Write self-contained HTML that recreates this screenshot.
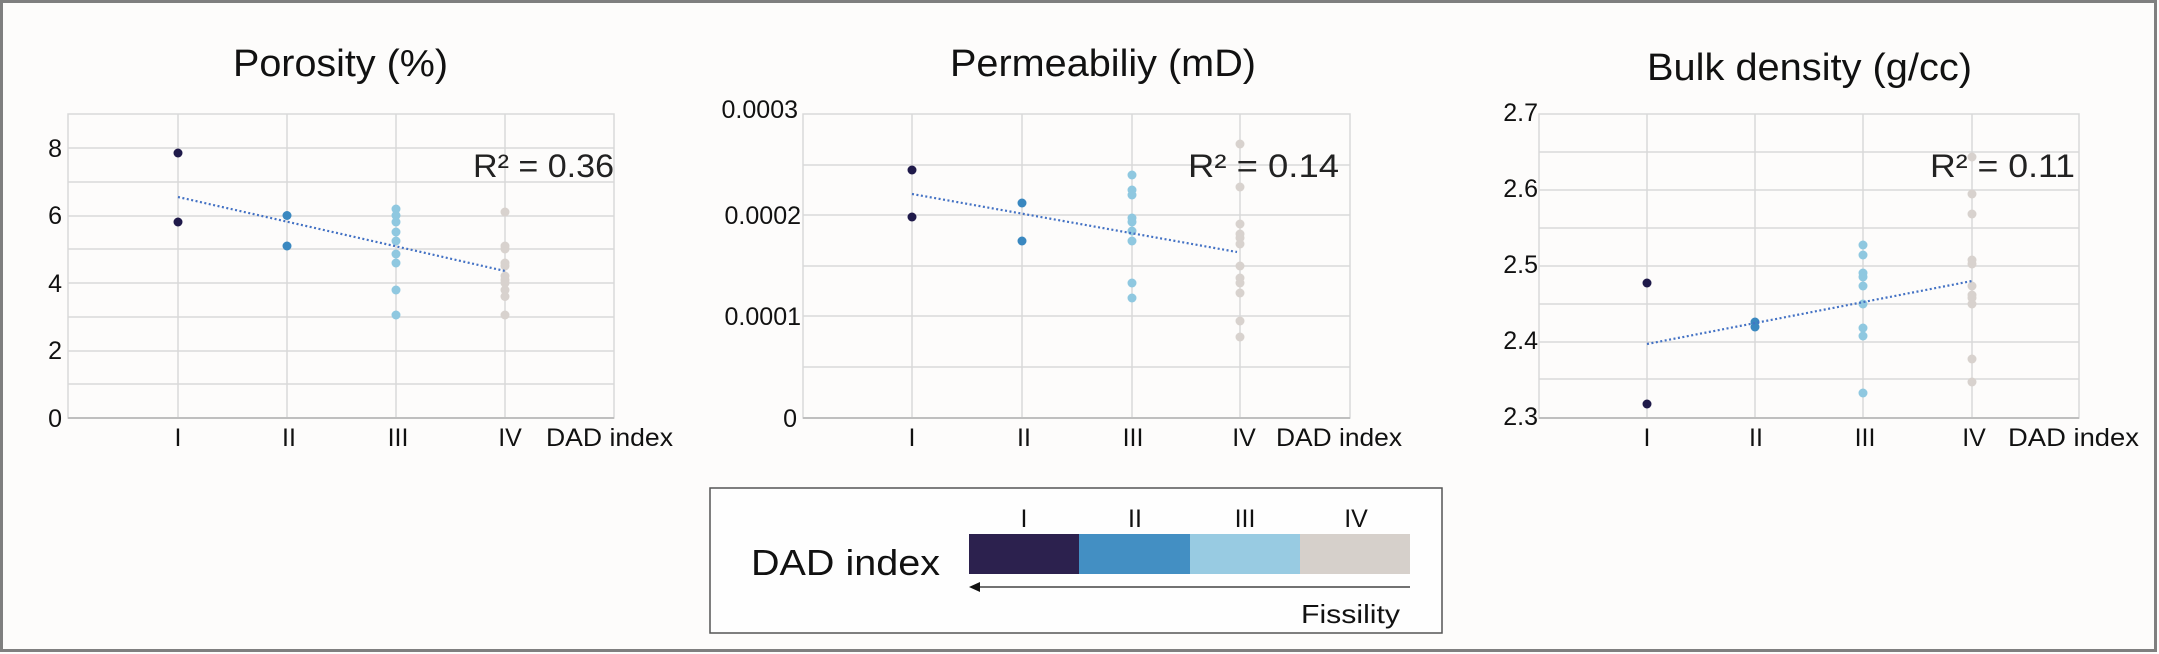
<!DOCTYPE html>
<html><head><meta charset="utf-8"><style>
html,body{margin:0;padding:0;background:#fdfcfb;}
svg{display:block;}
text{font-family:"Liberation Sans",sans-serif;fill:#111;}
.g{stroke:#d9d9d9;stroke-width:1.5;fill:none}
.tk{font-size:25px;text-anchor:end}
.xl{font-size:25px;text-anchor:middle}
.tt{font-size:38px}
.r2{font-size:32px;fill:#222}
.tr{stroke:#4472c4;stroke-width:2.2;stroke-dasharray:2 2.5;fill:none}
</style></head><body>
<svg width="2159" height="654" viewBox="0 0 2159 654" xmlns="http://www.w3.org/2000/svg">
<rect x="1.5" y="1.5" width="2154" height="649" fill="#fdfcfb" stroke="#7f7f7f" stroke-width="3"/>

<!-- Porosity -->
<g>
<text class="tt" x="233" y="76" textLength="215" lengthAdjust="spacingAndGlyphs">Porosity (%)</text>
<g class="g">
<rect x="68" y="114" width="546" height="304"/>
<line x1="68" x2="614" y1="148" y2="148"/><line x1="68" x2="614" y1="182" y2="182"/><line x1="68" x2="614" y1="216" y2="216"/><line x1="68" x2="614" y1="249" y2="249"/><line x1="68" x2="614" y1="283" y2="283"/><line x1="68" x2="614" y1="317" y2="317"/><line x1="68" x2="614" y1="351" y2="351"/><line x1="68" x2="614" y1="384" y2="384"/>
<line x1="178" x2="178" y1="114" y2="418"/><line x1="287" x2="287" y1="114" y2="418"/><line x1="396" x2="396" y1="114" y2="418"/><line x1="505" x2="505" y1="114" y2="418"/>
</g>
<line x1="68" x2="614" y1="418" y2="418" stroke="#bfbfbf" stroke-width="2"/>
<text class="tk" x="62" y="157">8</text><text class="tk" x="62" y="224">6</text><text class="tk" x="62" y="292">4</text><text class="tk" x="62" y="359">2</text><text class="tk" x="62" y="427">0</text>
<text class="xl" x="178" y="446">I</text><text class="xl" x="289" y="446">II</text><text class="xl" x="398" y="446">III</text><text class="xl" x="510" y="446">IV</text>
<text x="546" y="446" font-size="25" textLength="127" lengthAdjust="spacingAndGlyphs">DAD index</text>
<g fill="#1f1a4a"><circle cx="178" cy="153" r="4.5"/><circle cx="178" cy="222" r="4.5"/></g>
<g fill="#3a88c0"><circle cx="287" cy="215.5" r="4.5"/><circle cx="287" cy="246" r="4.5"/></g>
<g fill="#8fc8e0"><circle cx="396" cy="209" r="4.5"/><circle cx="396" cy="215.5" r="4.5"/><circle cx="396" cy="222" r="4.5"/><circle cx="396" cy="232" r="4.5"/><circle cx="396" cy="241" r="4.5"/><circle cx="396" cy="254" r="4.5"/><circle cx="396" cy="263" r="4.5"/><circle cx="396" cy="290" r="4.5"/><circle cx="396" cy="315" r="4.5"/></g>
<g fill="#d8d2ce"><circle cx="505" cy="212" r="4.5"/><circle cx="505" cy="246" r="4.5"/><circle cx="505" cy="249" r="4.5"/><circle cx="505" cy="263" r="4.5"/><circle cx="505" cy="266" r="4.5"/><circle cx="505" cy="276" r="4.5"/><circle cx="505" cy="280" r="4.5"/><circle cx="505" cy="283" r="4.5"/><circle cx="505" cy="290" r="4.5"/><circle cx="505" cy="296.5" r="4.5"/><circle cx="505" cy="315" r="4.5"/></g>
<line class="tr" x1="178" y1="197" x2="505" y2="271"/>
<text class="r2" x="473" y="177" textLength="141" lengthAdjust="spacingAndGlyphs">R² = 0.36</text>
</g>

<!-- Permeability -->
<g>
<text class="tt" x="950" y="76" textLength="306" lengthAdjust="spacingAndGlyphs">Permeabiliy (mD)</text>
<g class="g">
<rect x="803" y="114" width="547" height="304"/>
<line x1="803" x2="1350" y1="165" y2="165"/><line x1="803" x2="1350" y1="215" y2="215"/><line x1="803" x2="1350" y1="266" y2="266"/><line x1="803" x2="1350" y1="316" y2="316"/><line x1="803" x2="1350" y1="367" y2="367"/>
<line x1="912" x2="912" y1="114" y2="418"/><line x1="1022" x2="1022" y1="114" y2="418"/><line x1="1132" x2="1132" y1="114" y2="418"/><line x1="1240" x2="1240" y1="114" y2="418"/>
</g>
<line x1="803" x2="1350" y1="418" y2="418" stroke="#bfbfbf" stroke-width="2"/>
<text class="tk" x="798" y="118">0.0003</text><text class="tk" x="801" y="224">0.0002</text><text class="tk" x="801" y="325">0.0001</text><text class="tk" x="797" y="427">0</text>
<text class="xl" x="912" y="446">I</text><text class="xl" x="1024" y="446">II</text><text class="xl" x="1133" y="446">III</text><text class="xl" x="1244" y="446">IV</text>
<text x="1276" y="446" font-size="25" textLength="126" lengthAdjust="spacingAndGlyphs">DAD index</text>
<g fill="#1f1a4a"><circle cx="912" cy="170" r="4.5"/><circle cx="912" cy="217" r="4.5"/></g>
<g fill="#3a88c0"><circle cx="1022" cy="203" r="4.5"/><circle cx="1022" cy="241" r="4.5"/></g>
<g fill="#8fc8e0"><circle cx="1132" cy="175" r="4.5"/><circle cx="1132" cy="190" r="4.5"/><circle cx="1132" cy="195" r="4.5"/><circle cx="1132" cy="218" r="4.5"/><circle cx="1132" cy="222" r="4.5"/><circle cx="1132" cy="231" r="4.5"/><circle cx="1132" cy="241" r="4.5"/><circle cx="1132" cy="283" r="4.5"/><circle cx="1132" cy="298" r="4.5"/></g>
<g fill="#d8d2ce"><circle cx="1240" cy="144" r="4.5"/><circle cx="1240" cy="187" r="4.5"/><circle cx="1240" cy="224" r="4.5"/><circle cx="1240" cy="234" r="4.5"/><circle cx="1240" cy="238" r="4.5"/><circle cx="1240" cy="244" r="4.5"/><circle cx="1240" cy="266" r="4.5"/><circle cx="1240" cy="278" r="4.5"/><circle cx="1240" cy="283" r="4.5"/><circle cx="1240" cy="293" r="4.5"/><circle cx="1240" cy="321" r="4.5"/><circle cx="1240" cy="337" r="4.5"/></g>
<line class="tr" x1="912" y1="194" x2="1237" y2="252"/>
<text class="r2" x="1188" y="177" textLength="151" lengthAdjust="spacingAndGlyphs">R² = 0.14</text>
</g>

<!-- Bulk density -->
<g>
<text class="tt" x="1647" y="80" textLength="325" lengthAdjust="spacingAndGlyphs">Bulk density (g/cc)</text>
<g class="g">
<rect x="1539" y="114" width="540" height="304"/>
<line x1="1539" x2="2079" y1="152" y2="152"/><line x1="1539" x2="2079" y1="190" y2="190"/><line x1="1539" x2="2079" y1="228" y2="228"/><line x1="1539" x2="2079" y1="266" y2="266"/><line x1="1539" x2="2079" y1="304" y2="304"/><line x1="1539" x2="2079" y1="342" y2="342"/><line x1="1539" x2="2079" y1="379" y2="379"/>
<line x1="1647" x2="1647" y1="114" y2="418"/><line x1="1755" x2="1755" y1="114" y2="418"/><line x1="1863" x2="1863" y1="114" y2="418"/><line x1="1972" x2="1972" y1="114" y2="418"/>
</g>
<line x1="1539" x2="2079" y1="418" y2="418" stroke="#bfbfbf" stroke-width="2"/>
<text class="tk" x="1538" y="121">2.7</text><text class="tk" x="1538" y="197">2.6</text><text class="tk" x="1538" y="273">2.5</text><text class="tk" x="1538" y="349">2.4</text><text class="tk" x="1538" y="425">2.3</text>
<text class="xl" x="1647" y="446">I</text><text class="xl" x="1756" y="446">II</text><text class="xl" x="1865" y="446">III</text><text class="xl" x="1974" y="446">IV</text>
<text x="2008" y="446" font-size="25" textLength="131" lengthAdjust="spacingAndGlyphs">DAD index</text>
<g fill="#1f1a4a"><circle cx="1647" cy="283" r="4.5"/><circle cx="1647" cy="404" r="4.5"/></g>
<g fill="#3a88c0"><circle cx="1755" cy="322" r="4.5"/><circle cx="1755" cy="327" r="4.5"/></g>
<g fill="#8fc8e0"><circle cx="1863" cy="245" r="4.5"/><circle cx="1863" cy="255" r="4.5"/><circle cx="1863" cy="273" r="4.5"/><circle cx="1863" cy="277" r="4.5"/><circle cx="1863" cy="286" r="4.5"/><circle cx="1863" cy="304" r="4.5"/><circle cx="1863" cy="328" r="4.5"/><circle cx="1863" cy="336" r="4.5"/><circle cx="1863" cy="393" r="4.5"/></g>
<g fill="#d8d2ce"><circle cx="1972" cy="157" r="4.5"/><circle cx="1972" cy="194" r="4.5"/><circle cx="1972" cy="214" r="4.5"/><circle cx="1972" cy="260" r="4.5"/><circle cx="1972" cy="264" r="4.5"/><circle cx="1972" cy="286" r="4.5"/><circle cx="1972" cy="295" r="4.5"/><circle cx="1972" cy="298" r="4.5"/><circle cx="1972" cy="304" r="4.5"/><circle cx="1972" cy="359" r="4.5"/><circle cx="1972" cy="382" r="4.5"/></g>
<line class="tr" x1="1647" y1="344" x2="1972" y2="281"/>
<text class="r2" x="1930" y="177" textLength="145" lengthAdjust="spacingAndGlyphs">R² = 0.11</text>
</g>

<!-- Legend -->
<g>
<rect x="710" y="488" width="732" height="145" fill="#fefefe" stroke="#555" stroke-width="1.5"/>
<text x="751" y="575" font-size="36" textLength="189" lengthAdjust="spacingAndGlyphs">DAD index</text>
<rect x="969" y="534" width="110" height="40" fill="#2c214e"/>
<rect x="1079" y="534" width="111" height="40" fill="#438fc3"/>
<rect x="1190" y="534" width="110" height="40" fill="#98cbe2"/>
<rect x="1300" y="534" width="110" height="40" fill="#d6d0cb"/>
<text class="xl" x="1024" y="527" font-size="26">I</text>
<text class="xl" x="1135" y="527" font-size="26">II</text>
<text class="xl" x="1245" y="527" font-size="26">III</text>
<text class="xl" x="1356" y="527" font-size="26">IV</text>
<line x1="976" y1="587" x2="1410" y2="587" stroke="#444" stroke-width="1.5"/>
<polygon points="969,587 980,582 980,592" fill="#111"/>
<text x="1301" y="623" font-size="26" textLength="99" lengthAdjust="spacingAndGlyphs">Fissility</text>
</g>
</svg>
</body></html>
